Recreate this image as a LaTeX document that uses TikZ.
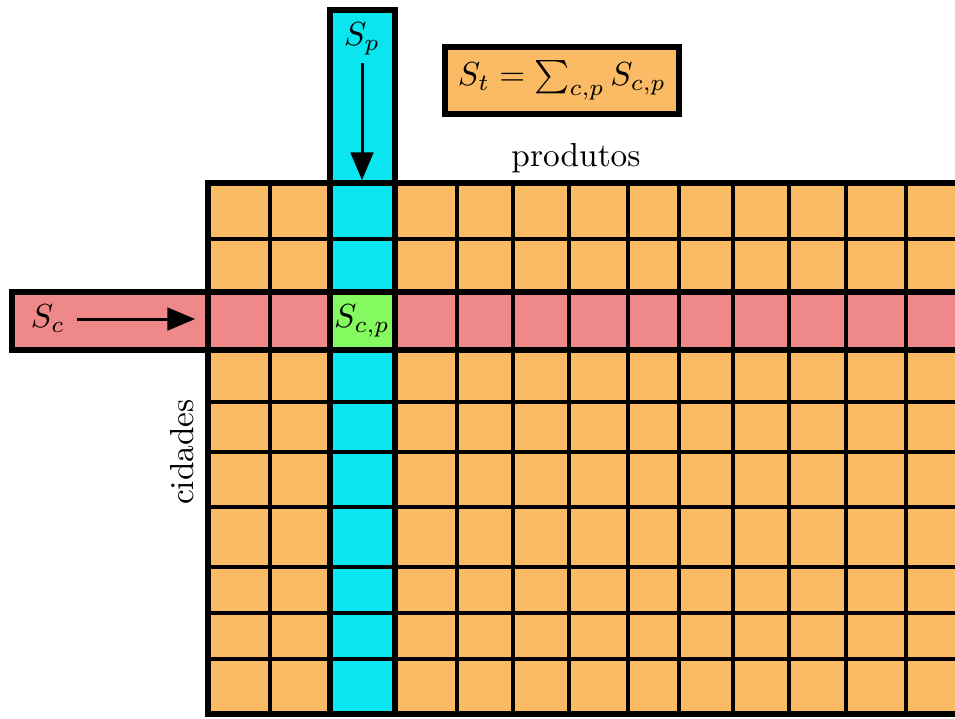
\documentclass[tikz,border=0pt]{standalone}
\usepackage{amsmath}
\usepackage{amsfonts}
\usepackage{amssymb}
\usepackage{tikz}
\usetikzlibrary{arrows}

\definecolor{laranja}{RGB}{251,187,101}
\definecolor{ciano}{RGB}{10,230,240}
\definecolor{rosa}{RGB}{239,136,136}
\definecolor{verde}{RGB}{133,250,96}

\begin{document}
\begin{tikzpicture}[>=triangle 45,x=0.3pt,y=-0.3pt,
  grossa/.style={line width=1.8pt},
  fina/.style={line width=1.2pt},
  seta/.style={->,line width=0.9pt}]
\useasboundingbox (0,0) rectangle (955,718);
\clip (0,0) rectangle (955,718);
% matriz cidades x produtos
\fill[laranja] (208,183) rectangle (975,714);
\foreach \x in {270,457,513,569,628,679,733,789,846,906}
  \draw[fina] (\x,183) -- (\x,714);
\foreach \y in {239,402,452,507,567,613,659}
  \draw[fina] (208,\y) -- (975,\y);
% linha da cidade c
\draw[grossa,fill=rosa] (12,292) rectangle (975,350);
\foreach \x in {270,457,513,569,628,679,733,789,846,906}
  \draw[fina] (\x,292) -- (\x,350);
% coluna do produto p
\draw[grossa,fill=ciano] (330,10) rectangle (395,714);
\foreach \y in {239,402,452,507,567,613,659}
  \draw[fina] (330,\y) -- (395,\y);
\draw[grossa] (208,183) rectangle (975,714);
% celula c,p
\draw[grossa,fill=verde] (330,292) rectangle (395,350);
\node (scp) at (362,321) {$S_{c,p}$};
% somas
\node (sc) at (48,319) {$S_c$};
\coordinate (sc-fim) at (195,319);
\draw[seta] (sc) -- (sc-fim);
\node[inner sep=2pt] (sp) at (362,39) {$S_p$};
\coordinate (sp-fim) at (362,180);
\draw[seta] (sp) -- (sp-fim);
\node[draw,grossa,fill=laranja,minimum width=70.2pt,minimum height=20.1pt] (st) at (562,80.5) {$S_t = \sum_{c,p} S_{c,p}$};
% eixos
\node[anchor=base] (produtos) at (576,166) {produtos};
\node[rotate=90,anchor=base] (cidades) at (193,452) {cidades};
\end{tikzpicture}
\end{document}
